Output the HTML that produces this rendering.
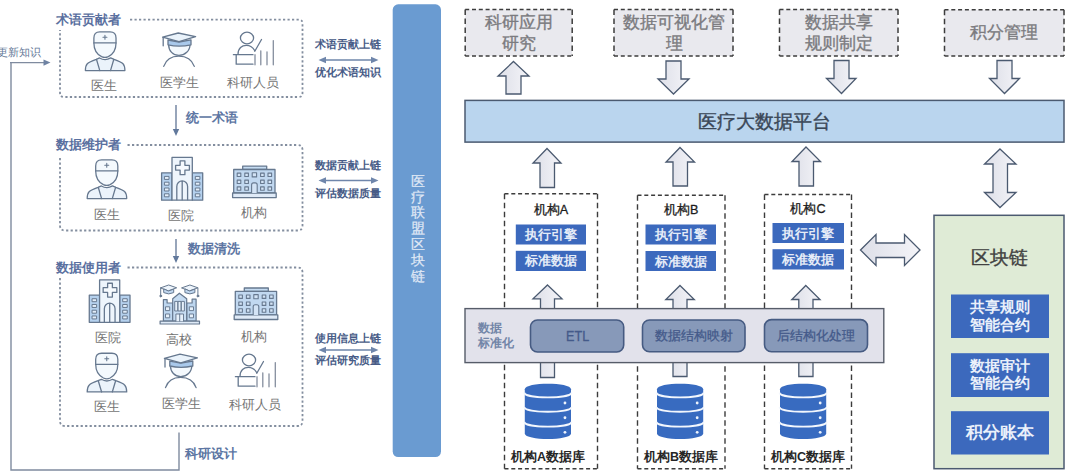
<!DOCTYPE html>
<html lang="zh">
<head>
<meta charset="utf-8">
<title>医疗联盟区块链</title>
<style>
html,body{margin:0;padding:0;background:#fff;}
body{width:1080px;height:473px;position:relative;overflow:hidden;font-family:"Liberation Sans",sans-serif;}
#g{position:absolute;left:0;top:0;}
.t{position:absolute;white-space:nowrap;line-height:1;margin:0;padding:0;}
.se{font-family:"Liberation Sans",sans-serif;}
.ttl{font-weight:bold;color:#5a70a0;font-size:13.2px;}
.lab{color:#747474;font-size:13.2px;}
.flow{font-weight:bold;color:#5d76a3;font-size:13.4px;}
.side{font-weight:bold;color:#485c87;font-size:11.4px;}
.c{text-align:center;}
.gbox{color:#7b7b7f;-webkit-text-stroke:0.35px #7b7b7f;font-size:17px;line-height:21px;text-align:center;white-space:normal;}
.org{color:#1c1c1c;font-size:12.6px;-webkit-text-stroke:0.3px #1c1c1c;text-align:center;}
.dbl{font-size:12.5px;font-weight:bold;color:#262626;-webkit-text-stroke:0;}
.bb{color:#e4ebf7;font-size:13px;font-weight:bold;text-align:center;}
.etl{color:#445a8a;-webkit-text-stroke:0.3px #445a8a;font-size:12.8px;text-align:center;}
.gb{color:#eaf0fa;font-size:15px;font-weight:bold;text-align:center;line-height:17.6px;white-space:normal;}
</style>
</head>
<body>
<svg id="g" width="1080" height="473" viewBox="0 0 1080 473">
<defs>
<linearGradient id="ag" x1="0" y1="0" x2="1" y2="0"><stop offset="0" stop-color="#dddfe8"/><stop offset="1" stop-color="#f4f4f8"/></linearGradient>
<!-- doctor 42x41 -->
<symbol id="doc" viewBox="0 0 42 41" overflow="visible">
 <g fill="#ebf3fb" stroke="#66788f" stroke-width="1.3" stroke-linejoin="round" stroke-linecap="round">
  <path d="M1 40 C1 33.5 2.5 32 12 28.6 L15.4 27.2 Q20.8 30.6 26.6 27.2 L30 28.6 C39.5 32 41 33.5 41 40 Z"/>
  <path d="M12.2 28.6 L15.6 40 M29.8 28.6 L26.4 40" fill="none"/>
  <path d="M9.6 12 C9.6 19 12.6 23.4 17.4 25.9 Q20.8 27.5 24.2 25.9 C29 23.4 32 19 32 12" fill="#f4f9fd"/>
  <path d="M9.6 12 V7 Q9.6 0.8 15.6 0.8 H26 Q32 0.8 32 7 V12 Z" fill="#f4f9fd"/>
  <path d="M20.8 4.3 V8.3 M18.8 6.3 H22.8" fill="none" stroke-width="1.1"/>
 </g>
</symbol>
<!-- student 34x36 -->
<symbol id="stu" viewBox="0 0 34 36" overflow="visible">
 <g fill="none" stroke="#66788f" stroke-width="1.3" stroke-linejoin="round" stroke-linecap="round">
  <path d="M1.7 34 C4 27.5 9 23.8 16.7 23.8 C24.4 23.8 30 27.5 32.3 34"/>
  <path d="M6.6 12 C6.6 18.5 11 23 17 23 C23 23 28 18.5 28 12" fill="#f4f9fd"/>
  <path d="M6 7.6 V12.4 Q17 15 29 12.4 V7.4 L17 9.6 Z" fill="#a9c9eb"/>
  <path d="M0.6 4.8 L16.2 0.6 L33.6 4.3 L17 9.2 Z" fill="#eaf3fb"/>
  <path d="M1.2 5.2 V13.4"/>
 </g>
</symbol>
<!-- researcher 43x35 -->
<symbol id="res" viewBox="0 0 43 35" overflow="visible">
 <g fill="none" stroke="#66788f" stroke-width="1.3" stroke-linecap="round" stroke-linejoin="round">
  <ellipse cx="14.2" cy="7" rx="6.6" ry="5.8"/>
  <path d="M5.2 23.4 C5.2 17 9.2 14.4 13.5 14.4 C17.2 14.4 20.2 16.5 22 19.8"/>
  <path d="M22 20.3 L28.7 8.5"/>
  <path d="M0.6 23.7 H20.2"/>
  <path d="M3.4 23.7 V33.2 H20.2"/>
  <path d="M22.2 23.7 V33.8 M28 19.8 V33.8 M34.2 20.8 V33.8 M40.5 9.6 V33.8" stroke="#858e9e"/>
 </g>
</symbol>
<!-- hospital 42.3x44 -->
<symbol id="hos" viewBox="0 0 42.3 44" overflow="visible">
 <g stroke="#66788f" stroke-width="1.3" stroke-linejoin="round">
  <rect x="0.6" y="16" width="10.4" height="27.4" fill="#b5d1ee"/>
  <rect x="31.3" y="16" width="10.4" height="27.4" fill="#b5d1ee"/>
  <rect x="11" y="0.6" width="20.3" height="42.8" fill="#eef5fc"/>
  <g fill="#e3eefa" stroke-width="1">
   <rect x="3.4" y="19.6" width="4.6" height="3"/><rect x="3.4" y="25.4" width="4.6" height="3"/><rect x="3.4" y="31.2" width="4.6" height="3"/><rect x="3.4" y="37" width="4.6" height="3"/>
   <rect x="34.3" y="19.6" width="4.6" height="3"/><rect x="34.3" y="25.4" width="4.6" height="3"/><rect x="34.3" y="31.2" width="4.6" height="3"/><rect x="34.3" y="37" width="4.6" height="3"/>
  </g>
  <path d="M19.1 4 H23.9 V8.5 H28.4 V13.3 H23.9 V17.9 H19.1 V13.3 H14.6 V8.5 H19.1 Z" fill="#f6fafe"/>
  <path d="M15.8 43.4 V29.6 A5.4 5.6 0 0 1 26.6 29.6 V43.4 M21.2 24.4 V43.4" fill="none"/>
 </g>
</symbol>
<!-- building 44.8x32.7 -->
<symbol id="bld" viewBox="0 0 44.8 32.7" overflow="visible">
 <g stroke="#66788f" stroke-width="1.3" stroke-linejoin="round">
  <rect x="10.7" y="0.6" width="24" height="3.4" fill="#c6dcf2"/>
  <rect x="1.7" y="4" width="41.3" height="23.5" fill="#c1d8f0"/>
  <rect x="0.6" y="27.5" width="43.6" height="4.6" fill="#dfeaf7"/>
  <g fill="#d3e3f5" stroke-width="1.1">
   <rect x="5.2" y="7.6" width="3.6" height="3.4"/><rect x="12.8" y="7.6" width="3.6" height="3.4"/><rect x="20.2" y="7.2" width="4.4" height="4.2"/><rect x="28.6" y="7.6" width="3.6" height="3.4"/><rect x="36" y="7.6" width="3.6" height="3.4"/>
   <rect x="5.2" y="14.6" width="3.6" height="3.4"/><rect x="12.8" y="14.6" width="3.6" height="3.4"/><rect x="28.6" y="14.6" width="3.6" height="3.4"/><rect x="36" y="14.6" width="3.6" height="3.4"/>
   <rect x="5.2" y="21.4" width="3.6" height="3.4"/><rect x="12.8" y="21.4" width="3.6" height="3.4"/><rect x="28.6" y="21.4" width="3.6" height="3.4"/><rect x="36" y="21.4" width="3.6" height="3.4"/>
   <path d="M19.6 27.5 V19.4 Q19.6 17.4 21.6 17.4 H23.2 Q25.2 17.4 25.2 19.4 V27.5"/>
  </g>
 </g>
</symbol>
<!-- university 40.5x40 -->
<symbol id="uni" viewBox="0 0 40.5 40" overflow="visible">
 <g stroke="#66788f" stroke-width="1.2" stroke-linejoin="round" stroke-linecap="round">
  <path d="M3.9 36.8 V15.2 H7.6 V18.6 H13.2 V36.8 Z" fill="#bdd6ef"/>
  <path d="M36.6 36.8 V14.8 H32.6 V18.6 H27.2 V36.8 Z" fill="#bdd6ef"/>
  <path d="M13.2 36.8 V14.4 L19.9 8.8 L27.2 14.4 V36.8 Z" fill="#c6dcf2"/>
  <rect x="0.6" y="36.8" width="39.4" height="2.8" fill="#dfeaf7"/>
  <g fill="#e6f0fa" stroke-width="0.95">
   <rect x="6.4" y="22.4" width="3.8" height="3.8"/><rect x="6.4" y="29.6" width="3.8" height="3.8"/>
   <rect x="30.2" y="22.4" width="3.8" height="3.8"/><rect x="30.2" y="29.6" width="3.8" height="3.8"/>
   <rect x="15.6" y="17" width="2.7" height="9.6"/><rect x="18.9" y="17" width="2.7" height="9.6"/><rect x="22.2" y="17" width="2.7" height="9.6"/>
   <path d="M16.4 36.8 V29.6 H24 V36.8 M20.2 29.6 V36.8"/>
  </g>
  <g fill="#eef5fc" stroke-width="1">
   <path d="M1.2 3.4 L9.2 0.6 L17.2 3.4 L9.2 6.3 Z"/>
   <path d="M4.2 4.8 V8.2 Q9.2 10.8 14.2 8.2 V4.8 L9.2 6.5 Z" fill="#c2d9f1"/>
   <path d="M1.2 3.6 V10.6" fill="none"/>
   <circle cx="1.2" cy="11.6" r="0.9" fill="#66788f"/>
   <path d="M22.4 3.4 L30.4 0.6 L38.4 3.4 L30.4 6.3 Z"/>
   <path d="M25.4 4.8 V8.2 Q30.4 10.8 35.4 8.2 V4.8 L30.4 6.5 Z" fill="#c2d9f1"/>
   <path d="M38.4 3.6 V10.6" fill="none"/>
   <circle cx="38.4" cy="11.6" r="0.9" fill="#66788f"/>
  </g>
 </g>
</symbol>
<!-- database 46x55 -->
<symbol id="db" viewBox="0 0 46 55" overflow="visible">
 <path d="M0 5.5 C0 -1.8 46 -1.8 46 5.5 V49.5 C46 56.8 0 56.8 0 49.5 Z" fill="#386bc0"/>
 <g fill="none" stroke="#f3f7fd" stroke-width="1.9">
  <path d="M-0.5 8.9 C0 15.2 46 15.2 46.5 8.9"/>
  <path d="M-0.5 23.2 C0 29.5 46 29.5 46.5 23.2"/>
  <path d="M-0.5 38 C0 44.3 46 44.3 46.5 38"/>
 </g>
 <g fill="#eef4fc">
  <circle cx="40" cy="19.2" r="1.4"/><circle cx="40" cy="33.9" r="1.4"/><circle cx="40" cy="48.4" r="1.4"/>
 </g>
</symbol>
</defs>

<!-- LEFT: feedback line -->
<g fill="none" stroke="#7f8b9f" stroke-width="1.4">
 <path d="M179 432.5 V470 H11 V62.6"/>
 <path d="M10 62.6 H44" stroke-width="1.1"/>
</g>
<path d="M50.5 62.6 L43.5 59.4 V65.8 Z" fill="#6f83a3"/>

<!-- dotted boxes -->
<g fill="none" stroke="#838e9f" stroke-width="1.8" stroke-dasharray="2.2 2.3" stroke-linecap="butt">
 <path d="M130 19.7 H298.5 Q302.5 19.5 302.5 23.5 V93 Q302.5 97 298.5 97 H64 Q60 97 60 93 V30"/>
 <path d="M127.5 145 H297.5 Q302.5 145 302.5 150 V225.5 Q302.5 230.5 297.5 230.5 H65 Q60 230.5 60 225.5 V156"/>
 <path d="M127.5 267.5 H297.5 Q302.5 267.5 302.5 272.5 V421 Q302.5 426 297.5 426 H65 Q60 426 60 421 V278"/>
</g>

<!-- down arrows between boxes -->
<g stroke="#6c7f9d" stroke-width="1.4" fill="none">
 <path d="M176 105 V130"/>
 <path d="M176 239 V257"/>
</g>
<path d="M176 136 L172.8 129 H179.2 Z M176 263 L172.8 256 H179.2 Z" fill="#62799c"/>

<!-- double arrows left/right -->
<g stroke="#6f86ab" stroke-width="1.5" fill="none">
 <path d="M325 60 H372 M325 180.5 H372 M325 350 H372"/>
</g>
<path d="M318.5 60 L326 56.8 V63.2 Z M378.5 60 L371 56.8 V63.2 Z M318.5 180.5 L326 177.3 V183.7 Z M378.5 180.5 L371 177.3 V183.7 Z M318.5 350 L326 346.8 V353.2 Z M378.5 350 L371 346.8 V353.2 Z" fill="#6f86ab"/>

<!-- icons row 1 -->
<use href="#doc" x="84.4" y="31" width="41.5" height="40.6"/>
<use href="#stu" x="162" y="32.4" width="34" height="36"/>
<use href="#res" x="232.8" y="31" width="43" height="35"/>
<!-- icons row 2 -->
<use href="#doc" x="86.2" y="159" width="41.5" height="40.6"/>
<use href="#hos" x="161" y="156.8" width="42.3" height="44"/>
<use href="#bld" x="232" y="165.5" width="44.8" height="32.7"/>
<!-- icons row 3 -->
<use href="#hos" x="88.5" y="279.3" width="42.3" height="43.6"/>
<use href="#uni" x="159.5" y="284.4" width="40.5" height="40"/>
<use href="#bld" x="233.6" y="287.4" width="44.8" height="32.7"/>
<!-- icons row 4 -->
<use href="#doc" x="86.2" y="352.4" width="41.5" height="40.6"/>
<use href="#stu" x="163.8" y="353.6" width="34" height="36"/>
<use href="#res" x="234.8" y="353" width="43" height="35"/>

<!-- vertical blue bar -->
<rect x="392.7" y="4.3" width="48.3" height="452.7" rx="5.5" ry="5.5" fill="#6a9bd1"/>

<!-- RIGHT: top dashed gray boxes -->
<g fill="#e9e9ee">
 <rect x="465.2" y="9.6" width="107" height="46.3"/>
 <rect x="614" y="9.6" width="119" height="46.3"/>
 <rect x="779.5" y="9.6" width="118.5" height="46.3"/>
 <rect x="944.5" y="9.8" width="119.5" height="46.1"/>
</g>
<g fill="none" stroke="#3c3c3c" stroke-width="1.5">
 <path d="M465.2 9.6 H572.2 M465.2 55.9 H572.2 M614 9.6 H733 M614 55.9 H733 M779.5 9.6 H898.0 M779.5 55.9 H898.0 M944.5 9.8 H1064.0 M944.5 55.900000000000006 H1064.0" stroke-dasharray="4 2.8"/>
 <path d="M465.2 9.6 V55.9 M572.2 9.6 V55.9 M614 9.6 V55.9 M733 9.6 V55.9 M779.5 9.6 V55.9 M898.0 9.6 V55.9 M944.5 9.8 V55.900000000000006 M1064.0 9.8 V55.900000000000006" stroke-dasharray="5.4 3.6"/>
</g>

<!-- block arrows top -->
<g fill="url(#ag)" stroke="#4b5a70" stroke-width="1.3" stroke-linejoin="miter">
 <path d="M513.5 61.5 L529 76 H521 V94 H506 V76 H498 Z"/>
 <path d="M666 61 H681 V79 H689 L673.5 94 L658 79 H666 Z"/>
 <path d="M834 60.5 H849 V78.5 H856 L841.5 93.5 L826.5 78.5 H834 Z"/>
 <path d="M997 60.5 H1012 V78.5 H1019.5 L1004.5 93.5 L989.5 78.5 H997 Z"/>
</g>

<!-- platform bar -->
<rect x="465" y="100.4" width="599" height="41.7" fill="#bad5ee" stroke="#4b5a70" stroke-width="1.5"/>

<!-- block arrows under platform -->
<g fill="url(#ag)" stroke="#4b5a70" stroke-width="1.3">
 <path d="M547 148.5 L561 163 H554.5 V187.5 H540 V163 H533 Z"/>
 <path d="M680 147.5 L694.5 162 H687.5 V186 H673 V162 H666 Z"/>
 <path d="M806 147 L820.5 161.5 H813.5 V186 H799 V161.5 H792 Z"/>
 <!-- vertical double arrow -->
 <path d="M1000 149 L1016 164 H1007.5 V192.5 H1016 L1000 207.5 L984.5 192.5 H993 V164 H984.5 Z"/>
 <!-- horizontal double arrow -->
 <path d="M860.5 250 L876 234.5 V243 H904.5 V234.5 L920 250 L904.5 265.5 V257.5 H876 V265.5 Z"/>
</g>

<!-- small arrows from DBs through ETL bar -->
<g fill="url(#ag)" stroke="#4b5a70" stroke-width="1.3">
 <path d="M547.5 285 L562 298.8 H554.5 V377.5 H540.5 V298.8 H533 Z"/>
 <path d="M680 285.5 L694.3 299.5 H687 V376.5 H673 V299.5 H665.8 Z"/>
 <path d="M805.8 285.5 L820 299.5 H813 V376.5 H798.8 V299.5 H791.8 Z"/>
</g>

<!-- organisation dashed boxes -->
<g fill="none" stroke="#3c3c3c" stroke-width="1.4">
 <path d="M504.5 193.8 H597.5 M504.5 468.8 H597.5 M637.5 195.3 H725.0 M637.5 468.8 H725.0 M764.5 194.5 H851.5 M764.5 468.8 H851.5" stroke-dasharray="4 2.8"/>
 <path d="M504.5 193.8 V468.8 M597.5 193.8 V468.8 M637.5 195.3 V468.8 M725.0 195.3 V468.8 M764.5 194.5 V468.8 M851.5 194.5 V468.8" stroke-dasharray="5.4 3.6"/>
</g>

<!-- blue boxes in orgs -->
<g fill="#3c69bd">
 <rect x="515.8" y="224.5" width="70.2" height="20"/>
 <rect x="515.8" y="250.8" width="70.2" height="20.2"/>
 <rect x="645.5" y="224.5" width="70.5" height="20"/>
 <rect x="645.5" y="251" width="70.5" height="20"/>
 <rect x="772.5" y="223" width="71.5" height="20"/>
 <rect x="772.5" y="249.2" width="71.5" height="20.3"/>
</g>

<!-- ETL bar -->
<rect x="465" y="308.6" width="418.8" height="54" fill="#e2e2eb" stroke="#565c69" stroke-width="1.4"/>
<g fill="#8799b9" stroke="#465b82" stroke-width="1.6">
 <rect x="530.5" y="320" width="93.2" height="32" rx="7" ry="7"/>
 <rect x="642.5" y="320" width="102.5" height="31.8" rx="7" ry="7"/>
 <rect x="764.5" y="319.6" width="103" height="32.2" rx="7" ry="7"/>
</g>

<!-- databases -->
<use href="#db" x="524.8" y="383.7" width="46.2" height="55.3"/>
<use href="#db" x="657" y="383.7" width="46.2" height="55.3"/>
<use href="#db" x="780" y="383.7" width="46.2" height="55.3"/>

<!-- green blockchain box -->
<rect x="934" y="215.3" width="130" height="253.4" fill="#dfebd6" stroke="#4b5a70" stroke-width="1.5"/>
<g fill="#3c69bd">
 <rect x="951" y="294.5" width="98" height="43.5"/>
 <rect x="951" y="353.2" width="98" height="43.8"/>
 <rect x="951" y="411.2" width="98" height="43.3"/>
</g>
</svg>

<!-- LEFT TEXT -->
<div class="t se" style="left:-58.9px;width:100px;text-align:right;top:47px;font-size:11.4px;color:#667a98;">更新知识</div>

<div class="t se ttl c" style="left:28.3px;width:120px;top:12.5px;">术语贡献者</div>
<div class="t se ttl c" style="left:28.3px;width:120px;top:137.5px;">数据维护者</div>
<div class="t se ttl c" style="left:28.3px;width:120px;top:260.5px;">数据使用者</div>

<div class="t se flow c" style="left:151.8px;width:120px;top:111px;">统一术语</div>
<div class="t se flow c" style="left:154.3px;width:120px;top:242px;">数据清洗</div>
<div class="t se flow c" style="left:151.3px;width:120px;top:447px;">科研设计</div>

<div class="t se lab c" style="left:74px;width:60px;top:78.5px;">医生</div>
<div class="t se lab c" style="left:149px;width:60px;top:76px;">医学生</div>
<div class="t se lab c" style="left:223px;width:60px;top:76px;">科研人员</div>

<div class="t se lab c" style="left:77px;width:60px;top:208px;">医生</div>
<div class="t se lab c" style="left:151px;width:60px;top:208.5px;">医院</div>
<div class="t se lab c" style="left:224px;width:60px;top:206px;">机构</div>

<div class="t se lab c" style="left:78px;width:60px;top:330.5px;">医院</div>
<div class="t se lab c" style="left:149px;width:60px;top:332.5px;">高校</div>
<div class="t se lab c" style="left:224px;width:60px;top:329.5px;">机构</div>

<div class="t se lab c" style="left:77px;width:60px;top:399.5px;">医生</div>
<div class="t se lab c" style="left:151px;width:60px;top:397px;">医学生</div>
<div class="t se lab c" style="left:225px;width:60px;top:398px;">科研人员</div>

<div class="t se side c" style="left:288.2px;width:120px;top:38.5px;">术语贡献上链</div>
<div class="t se side c" style="left:288.2px;width:120px;top:66.5px;">优化术语知识</div>
<div class="t se side c" style="left:288.2px;width:120px;top:159.5px;">数据贡献上链</div>
<div class="t se side c" style="left:288.2px;width:120px;top:187.5px;">评估数据质量</div>
<div class="t se side c" style="left:287.7px;width:120px;top:332.5px;">使用信息上链</div>
<div class="t se side c" style="left:287.7px;width:120px;top:355px;">评估研究质量</div>

<div class="t se c" style="left:402px;width:32px;top:173.8px;font-size:14.4px;line-height:15.8px;color:#e1eaf6;-webkit-text-stroke:0.2px #e1eaf6;white-space:normal;">医<br>疗<br>联<br>盟<br>区<br>块<br>链</div>

<!-- RIGHT TEXT -->
<div class="t gbox" style="left:465px;width:107px;top:11.5px;">科研应用<br>研究</div>
<div class="t gbox" style="left:616px;width:116px;top:11.5px;">数据可视化管<br>理</div>
<div class="t gbox" style="left:779.5px;width:118.5px;top:11.5px;">数据共享<br>规则制定</div>
<div class="t gbox" style="left:944.5px;width:119.5px;top:22px;">积分管理</div>

<div class="t c" style="left:465px;width:599px;top:111.5px;font-size:19px;-webkit-text-stroke:0.4px #3a4757;color:#3a4757;">医疗大数据平台</div>

<div class="t org" style="left:504.5px;width:93px;top:203.5px;">机构A</div>
<div class="t org" style="left:637.5px;width:87.5px;top:203.5px;">机构B</div>
<div class="t org" style="left:764.5px;width:87px;top:203px;">机构C</div>

<div class="t bb" style="left:515.8px;width:70.2px;top:228px;">执行引擎</div>
<div class="t bb" style="left:515.8px;width:70.2px;top:254.4px;">标准数据</div>
<div class="t bb" style="left:645.5px;width:70.5px;top:228px;">执行引擎</div>
<div class="t bb" style="left:645.5px;width:70.5px;top:254.5px;">标准数据</div>
<div class="t bb" style="left:772.5px;width:71.5px;top:226.5px;">执行引擎</div>
<div class="t bb" style="left:772.5px;width:71.5px;top:252.8px;">标准数据</div>

<div class="t" style="left:477.5px;top:321px;font-size:12.4px;line-height:15px;font-weight:bold;color:#7386a8;white-space:normal;width:40px;">数据<br>标准化</div>
<div class="t etl" style="left:530.5px;width:93.2px;top:329.2px;font-size:14px;transform:scaleX(0.9);">ETL</div>
<div class="t etl" style="left:642.5px;width:102.5px;top:329.8px;">数据结构映射</div>
<div class="t etl" style="left:764.5px;width:103px;top:329.8px;">后结构化处理</div>

<div class="t org dbl" style="left:500px;width:96px;top:450.8px;">机构A数据库</div>
<div class="t org dbl" style="left:633px;width:96px;top:450.8px;">机构B数据库</div>
<div class="t org dbl" style="left:760px;width:96px;top:450.8px;">机构C数据库</div>

<div class="t c" style="left:934px;width:130px;top:248px;font-size:19.2px;-webkit-text-stroke:0.35px #414141;color:#414141;">区块链</div>
<div class="t gb" style="left:951px;width:98px;top:298px;">共享规则<br>智能合约</div>
<div class="t gb" style="left:951px;width:98px;top:356.8px;">数据审计<br>智能合约</div>
<div class="t gb" style="left:951px;width:98px;top:424px;font-size:17px;">积分账本</div>
</body>
</html>
